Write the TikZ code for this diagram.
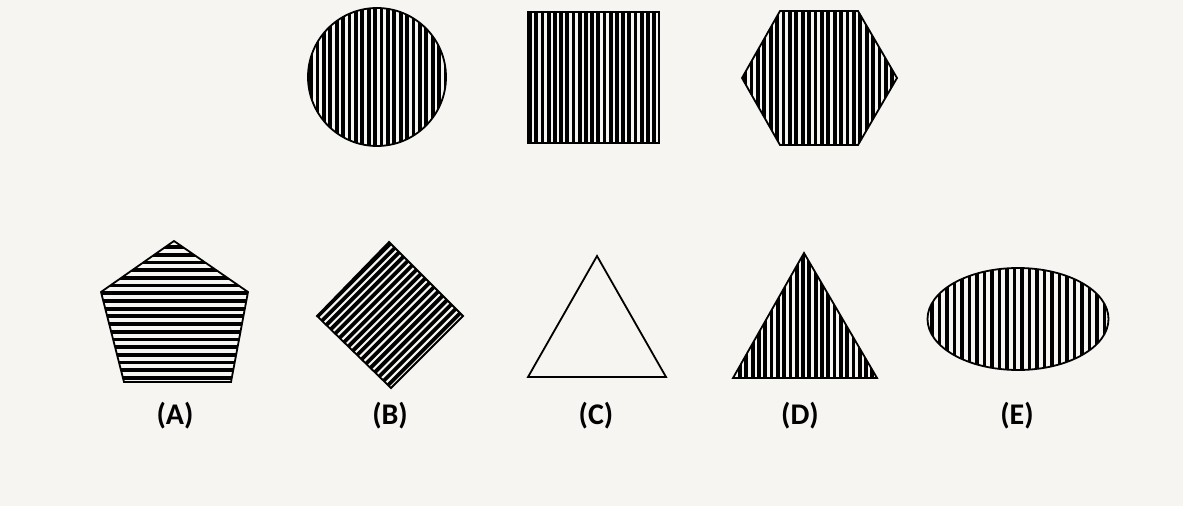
\documentclass[tikz,border=0pt]{standalone}
\usepackage{fontspec}
\setmainfont{Carlito}
\definecolor{bg}{RGB}{246,245,242}
\tikzset{
  outline/.style={draw=black, line width=1.8pt, line join=miter},
  stripe/.style={black, line width=3.8pt},
  lbl/.style={font=\bfseries\fontsize{30}{34}\selectfont, inner sep=0pt},
}
\begin{document}
\begin{tikzpicture}[x=1pt,y=-1pt]
\fill[bg] (0,0) rectangle (1183,506);
\useasboundingbox (0,0) rectangle (1183,506);
% circle
\begin{scope}
\clip (377,77) circle (69);
\foreach \i in {0,...,22} {\draw[stripe] (311+\i*6.4,0) -- (311+\i*6.4,160);}
\end{scope}
\draw[outline] (377,77) circle (69);
% square
\begin{scope}
\clip (528,12) rectangle (659,143);
\foreach \i in {0,...,21} {\draw[stripe] (530+\i*6.2,0) -- (530+\i*6.2,160);}
\end{scope}
\draw[outline] (528,12) rectangle (659,143);
% hexagon
\begin{scope}
\clip (742,78) -- (780,11) -- (858,11) -- (897,78) -- (858,145) -- (780,145) -- cycle;
\foreach \i in {0,...,24} {\draw[stripe] (745+\i*6.4,0) -- (745+\i*6.4,160);}
\end{scope}
\draw[outline] (742,78) -- (780,11) -- (858,11) -- (897,78) -- (858,145) -- (780,145) -- cycle;
% pentagon
\begin{scope}
\clip (174,241) -- (248,292) -- (231,382) -- (124,382) -- (101,292) -- cycle;
\foreach \i in {0,...,18} {\draw[stripe] (90,247+\i*7.7) -- (260,247+\i*7.7);}
\end{scope}
\draw[outline] (174,241) -- (248,292) -- (231,382) -- (124,382) -- (101,292) -- cycle;
% diamond
\begin{scope}
\clip (389,242) -- (463,316) -- (391,388) -- (317,316) -- cycle;
\foreach \i in {0,...,17} {\draw[stripe] (634+\i*8.7-230,230) -- (634+\i*8.7-400,400);}
\end{scope}
\draw[outline] (389,242) -- (463,316) -- (391,388) -- (317,316) -- cycle;
% triangle C
\draw[outline] (597,256) -- (666,377) -- (528,377) -- cycle;
% triangle D
\begin{scope}
\clip (804,253) -- (877,378) -- (733,378) -- cycle;
\foreach \i in {0,...,23} {\draw[stripe] (740+\i*6.3,240) -- (740+\i*6.3,390);}
\end{scope}
\draw[outline] (804,253) -- (877,378) -- (733,378) -- cycle;
% ellipse
\begin{scope}
\clip (1018,319) ellipse (90.5 and 51);
\foreach \i in {0,...,23} {\draw[stripe] (932+\i*7.5,260) -- (932+\i*7.5,380);}
\end{scope}
\draw[outline] (1018,319) ellipse (90.5 and 51);
% labels
\node[lbl] (la) at (175,416) {(A)};
\node[lbl] (lb) at (390,416) {(B)};
\node[lbl] (lc) at (596,416) {(C)};
\node[lbl] (ld) at (800,416) {(D)};
\node[lbl] (le) at (1017,416) {(E)};
\end{tikzpicture}
\end{document}
